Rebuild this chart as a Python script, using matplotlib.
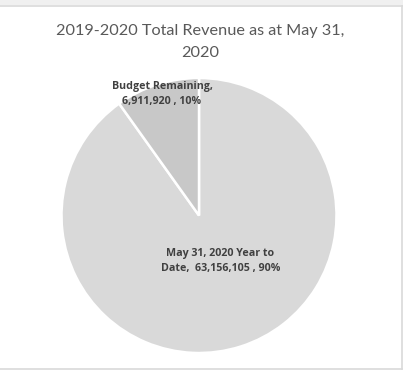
import matplotlib
matplotlib.use("Agg")
import matplotlib.pyplot as plt
from matplotlib.patches import Rectangle
from matplotlib.lines import Line2D

# Revenue split for the 2019-2020 fiscal year
categories = ["May 31, 2020 Year to\nDate", "Budget Remaining"]
values = [63156105, 6911920]
pct_labels = ["90%", "10%"]
colors = ["#d9d9d9", "#c8c8c8"]

W, H = 403, 377
fig = plt.figure(figsize=(W / 100, H / 100), dpi=100)
fig.patch.set_facecolor("white")

# chart frame
fig.patches.append(Rectangle((0, 1 - 5 / H), 1, 5 / H, transform=fig.transFigure,
                             facecolor="#f0f0f0", edgecolor="none"))
frame_kw = dict(transform=fig.transFigure, color="#d9d9d9", linewidth=1.2)
fig.lines.append(Line2D([0, 1], [1 - 5.5 / H] * 2, **frame_kw))
fig.lines.append(Line2D([401.5 / W] * 2, [1 - 5.5 / H, 1 - 369 / H], **frame_kw))
fig.lines.append(Line2D([0, 401.5 / W], [1 - 369 / H] * 2, **frame_kw))

cx, cy, r = 199, 215.5, 137.5
ax = fig.add_axes([(cx - r) / W, 1 - (cy + r) / H, 2 * r / W, 2 * r / H])
ax.pie(values, colors=colors, startangle=90, counterclock=False, radius=1,
       wedgeprops=dict(edgecolor="white", linewidth=1.8))
ax.set_xlim(-1, 1)
ax.set_ylim(-1, 1)
ax.set_aspect("equal")
ax.axis("off")

title_font = "Lato"
fig.text(200 / W, 1 - 31 / H, "2019-2020 Total Revenue as at May 31,",
         ha="center", va="center", fontsize=11.7, color="#595959", family=title_font)
fig.text(200 / W, 1 - 53 / H, "2020",
         ha="center", va="center", fontsize=11.7, color="#595959", family=title_font)

label_pos = [(0.156, -0.331), (-0.269, 0.884)]
texts = [
    f"May 31, 2020 Year to\nDate,  {values[0]:,} , {pct_labels[0]}",
    f"{categories[1]},\n{values[1]:,} , {pct_labels[1]}",
]
for (x, y), t in zip(label_pos, texts):
    ax.text(x, y, t, ha="center", va="center", fontsize=7.7, fontweight="bold",
            color="#404040", family="Open Sans", linespacing=1.45)

fig.savefig("out.png", dpi=100, facecolor=fig.get_facecolor())
